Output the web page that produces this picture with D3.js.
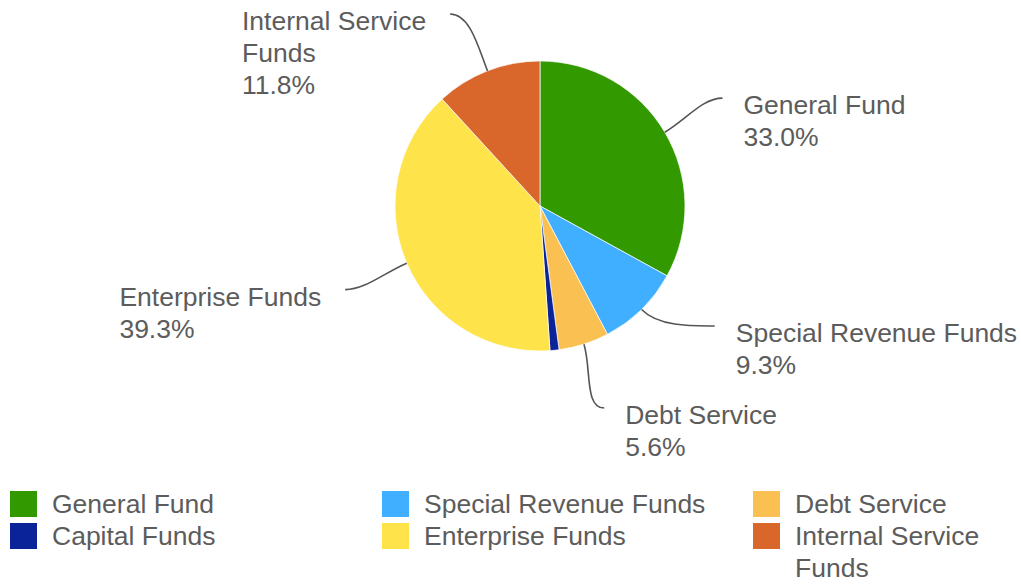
<!DOCTYPE html>
<html>
<head>
<meta charset="utf-8">
<script src="https://cdn.jsdelivr.net/npm/d3@7"></script>
<style>
  html, body { margin: 0; padding: 0; background: #fff; }
  svg { display: block; }
  text { font-family: "Liberation Sans", Arial, sans-serif; fill: #5c5c5c; }
</style>
</head>
<body>
<svg id="chart" width="1021" height="584"></svg>
<script>
// Fund shares of the total budget, in percent
const categories = ["General Fund", "Special Revenue Funds", "Debt Service", "Capital Funds", "Enterprise Funds", "Internal Service Funds"];
const values = [33.0, 9.3, 5.6, 1.0, 39.3, 11.8];
const colors = ["#339900", "#40afff", "#fac152", "#0b2399", "#ffe34b", "#d9662a"];

const W = 1021, H = 584;
const cx = 540, cy = 206, radius = 145, labelRadius = 212;
const fontSize = 26.5, lineH = 32;
const svg = d3.select("#chart");

const color = d3.scaleOrdinal().domain(categories).range(colors);
const fmt = v => d3.format(".1f")(v) + "%";

// text measuring helper
const measurer = svg.append("text").attr("font-size", fontSize).attr("visibility", "hidden");
function textWidth(s) { measurer.text(s); return measurer.node().getComputedTextLength(); }
function wrap(s, maxW) {
  const words = s.split(" ");
  const lines = [];
  let cur = "";
  words.forEach(w => {
    const t = cur ? cur + " " + w : w;
    if (cur && textWidth(t) > maxW) { lines.push(cur); cur = w; } else cur = t;
  });
  if (cur) lines.push(cur);
  return lines;
}

// pie
const pie = d3.pie().sort(null).value(d => d.value);
const arcs = pie(categories.map((c, i) => ({ name: c, value: values[i] })));
const arc = d3.arc().innerRadius(0).outerRadius(radius);

const g = svg.append("g").attr("transform", `translate(${cx},${cy})`);
g.selectAll("path.slice").data(arcs).join("path")
  .attr("class", "slice")
  .attr("d", arc)
  .attr("fill", d => color(d.data.name))
  .attr("stroke", "#ffffff")
  .attr("stroke-width", 0.7);

// slice labels with leader lines (tiny slices are left unlabelled)
const labelled = arcs.filter(d => d.data.value >= 2).map(d => {
  const mid = (d.startAngle + d.endAngle) / 2;
  const side = Math.sin(mid) >= 0 ? 1 : -1;
  return { d, mid, side, y: -labelRadius * Math.cos(mid), lines: null };
});

// name lines + value line
labelled.forEach(l => {
  const x0 = l.side * Math.sqrt(Math.max(0, labelRadius * labelRadius - l.y * l.y));
  const maxW = l.side > 0 ? (W - (cx + x0 + 20) - 4) : 215;
  l.nameLines = wrap(l.d.data.name, maxW);
  l.lines = l.nameLines.concat([fmt(l.d.data.value)]);
});

// keep label blocks apart on each side
[1, -1].forEach(side => {
  const group = labelled.filter(l => l.side === side).sort((a, b) => b.y - a.y);
  for (let i = 1; i < group.length; i++) {
    const lower = group[i - 1], upper = group[i];
    const gap = upper.lines.length * lineH + 18;
    if (lower.y - upper.y < gap) upper.y = lower.y - gap;
  }
  group.forEach(l => { if (cy + l.y < 14) l.y = 14 - cy; });
});

labelled.forEach(l => {
  l.x = l.side * Math.sqrt(Math.max(0, labelRadius * labelRadius - l.y * l.y));
  const p0 = [radius * Math.sin(l.mid), -radius * Math.cos(l.mid)];
  const p1 = [(radius + 25) * Math.sin(l.mid), -(radius + 25) * Math.cos(l.mid)];
  const p2 = [l.x - l.side * 20, l.y];
  const path = d3.path();
  path.moveTo(p0[0], p0[1]);
  path.bezierCurveTo(p1[0], p1[1], p2[0], p2[1], l.x, l.y);
  g.append("path")
    .attr("d", path.toString())
    .attr("fill", "none")
    .attr("stroke", "#555555")
    .attr("stroke-width", 1.6);

  const blockW = d3.max(l.lines, s => textWidth(s));
  const tx = l.side > 0 ? l.x + 21 : l.x - 24 - blockW;
  const t = g.append("text")
    .attr("font-size", fontSize)
    .attr("x", tx)
    .attr("y", l.y + 16);
  t.selectAll("tspan").data(l.lines).join("tspan")
    .attr("x", tx)
    .attr("dy", (s, i) => i === 0 ? 0 : lineH)
    .text(s => s);
});

// legend: three columns, filled row by row
const legendCols = [10, 382, 753];
const legendTop = 513;
const legend = svg.append("g");
categories.forEach((c, i) => {
  const col = i % 3, row = Math.floor(i / 3);
  const x = legendCols[col];
  const base = legendTop + row * lineH;
  legend.append("rect")
    .attr("x", x).attr("y", base - 22)
    .attr("width", 27).attr("height", 26)
    .attr("fill", color(c));
  const tx = x + 42;
  const lines = wrap(c, W - tx - 6);
  const t = legend.append("text").attr("font-size", fontSize).attr("x", tx).attr("y", base);
  t.selectAll("tspan").data(lines).join("tspan")
    .attr("x", tx)
    .attr("dy", (s, j) => j === 0 ? 0 : lineH)
    .text(s => s);
});
measurer.remove();
</script>
</body>
</html>
